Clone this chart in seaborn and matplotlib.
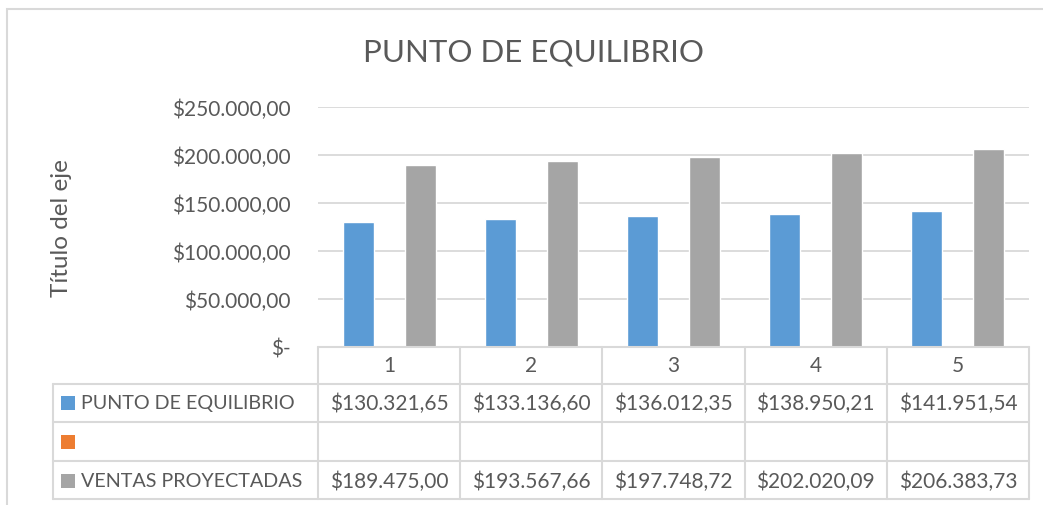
import numpy as np
import pandas as pd
import matplotlib
matplotlib.use('Agg')
import matplotlib.pyplot as plt
import seaborn as sns

# data
periodos = ['1', '2', '3', '4', '5']
series = ['PUNTO DE EQUILIBRIO', '', 'VENTAS PROYECTADAS']
punto_equilibrio = [130321.65, 133136.60, 136012.35, 138950.21, 141951.54]
serie_vacia = [np.nan] * 5
ventas_proyectadas = [189475.00, 193567.66, 197748.72, 202020.09, 206383.73]
colores = ['#5B9BD5', '#ED7D31', '#A5A5A5']
yticks = [0, 50000, 100000, 150000, 200000, 250000]

valores = [punto_equilibrio, serie_vacia, ventas_proyectadas]
rows = []
for s, vals in zip(series, valores):
    for p, v in zip(periodos, vals):
        rows.append({'periodo': p, 'serie': s, 'valor': v})
df = pd.DataFrame(rows)


def moneda(v):
    if v == 0:
        return '$-'
    txt = f'{v:,.2f}'.replace(',', 'X').replace('.', ',').replace('X', '.')
    return '$' + txt


sns.set_style('white')
plt.rcParams['font.family'] = ['Lato', 'DejaVu Sans']
gris_txt = '#595959'
gris_linea = '#D9D9D9'
fs = 15

W, H = 1043, 506
fig = plt.figure(figsize=(W / 100, H / 100), dpi=100)
ax = fig.add_axes([318 / W, 1 - 348 / H, 711 / W, 240 / H])

sns.barplot(data=df, x='periodo', y='valor', hue='serie', hue_order=series,
            order=periodos, palette=colores, width=0.655, errorbar=None,
            legend=False, ax=ax, saturation=1)

ax.set_xlim(-0.5, len(periodos) - 0.5)
ax.set_ylim(0, 250000)
ax.set_yticks(yticks)
ax.set_yticklabels([moneda(v) for v in yticks], fontsize=fs, color=gris_txt)
ax.set_xticks([])
ax.set_xlabel('')
ax.set_ylabel('')
ax.tick_params(axis='y', length=0, pad=20)
ax.yaxis.grid(True, color=gris_linea, lw=1.3)
ax.set_axisbelow(True)
for sp in ax.spines.values():
    sp.set_visible(False)

# chart frame
fig.patches.append(plt.Rectangle((7 / W, -0.1), 1.1, 1 - 10 / H + 0.1,
                                 transform=fig.transFigure, fill=False,
                                 edgecolor=gris_linea, lw=1.5))

fig.text(533 / W, 1 - 52 / H, 'PUNTO DE EQUILIBRIO', ha='center', va='center',
         fontsize=22.5, color=gris_txt)
fig.text(62 / W, 1 - 228 / H, 'Título del eje', ha='center', va='center',
         rotation=90, fontsize=17.5, color=gris_txt)

# data table below the plot
tr = ax.get_xaxis_transform()
ppx = 711 / len(periodos)  # pixels per category
left = -0.5 - (318 - 53) / ppx


def fy(py):
    return (348 - py) / 240


row_lines = [385, 423, 462, 500]
kw = dict(transform=tr, clip_on=False, color=gris_linea, lw=1.5)
ax.plot([-0.5, len(periodos) - 0.5], [0, 0], **kw)
for py in row_lines:
    ax.plot([left, len(periodos) - 0.5], [fy(py), fy(py)], **kw)
for i in range(len(periodos) + 1):
    ax.plot([i - 0.5, i - 0.5], [0, fy(500)], **kw)
ax.plot([left, left], [fy(385), fy(500)], **kw)

for i, p in enumerate(periodos):
    ax.text(i, fy(366), p, transform=tr, ha='center', va='center',
            fontsize=fs, color=gris_txt)

centros = [404, 443, 482]
for s, vals, c, cy in zip(series, valores, colores, centros):
    ax.add_patch(plt.Rectangle((left + 8 / ppx, fy(cy + 7)), 14 / ppx, 14 / 240,
                               transform=tr, clip_on=False, color=c, lw=0))
    ax.text(left + 28 / ppx, fy(cy), s, transform=tr, ha='left', va='center',
            fontsize=14.2, color=gris_txt)
    for i, v in enumerate(vals):
        if not np.isnan(v):
            ax.text(i, fy(cy), moneda(v), transform=tr, ha='center',
                    va='center', fontsize=fs, color=gris_txt)

fig.savefig('out.png', dpi=100)
